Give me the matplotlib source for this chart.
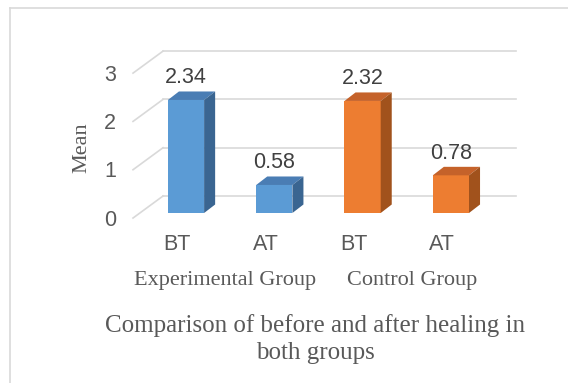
import matplotlib.pyplot as plt
from matplotlib.patches import Polygon
from matplotlib.lines import Line2D

# Mean scores before (BT) and after (AT) treatment
groups = ['Experimental Group', 'Control Group']
conditions = ['BT', 'AT', 'BT', 'AT']
means = [2.34, 0.58, 2.32, 0.78]
yticks = [0, 1, 2, 3]

# front / top / side shades for each group
shades = {
    'blue':   ('#5B9BD5', '#4A7DB4', '#3A6591'),
    'orange': ('#ED7D31', '#C5622A', '#A1521C'),
}
bar_shade = ['blue', 'blue', 'orange', 'orange']

W, H = 568, 383
fig = plt.figure(figsize=(W / 100, H / 100), dpi=100)
fig.patch.set_facecolor('white')

# chart frame (left and top edges)
fig.add_artist(Line2D([9.5 / W, 9.5 / W], [0, 1 - 8 / H], color='#d9d9d9', lw=1.2))
fig.add_artist(Line2D([9.5 / W, 1], [1 - 8 / H, 1 - 8 / H], color='#d9d9d9', lw=1.2))

# plot area in pixels
L, R, T, B = 100, 540, 40, 300
ax = fig.add_axes([L / W, 1 - B / H, (R - L) / W, (B - T) / H])
ppx, ppy = 88.3, 48.3        # pixels per data unit
x0, y0 = 186, 213            # pixel of bar 0 front-center baseline
ax.set_xlim((L - x0) / ppx, (R - x0) / ppx)
ax.set_ylim((y0 - B) / ppy, (y0 - T) / ppy)
ax.axis('off')

# 3D depth offsets (data units)
wall_dx, wall_dy = 0.263, 0.352     # bar front plane -> back wall
front_dx, front_dy = -0.077, -0.104  # bar front plane -> front edge
bar_dx, bar_dy = 0.125, 0.176        # bar depth
wall_left, wall_right = -0.26, 3.74
grid_c = '#d9d9d9'

for v in yticks:
    yb = v + wall_dy
    ax.plot([wall_left, wall_right], [yb, yb], color=grid_c, lw=1.2, zorder=1)
    xf = wall_left - wall_dx + front_dx
    ax.plot([wall_left, xf], [yb, v + front_dy], color=grid_c, lw=1.2, zorder=1)
    ax.text(-0.79, v - 0.15, str(v), ha='right', va='center',
            fontsize=15.5, color='#595959', family='Liberation Sans')

width = 0.41
x = list(range(len(means)))
bars = ax.bar(x, means, width=width, color=[shades[s][0] for s in bar_shade],
              zorder=3)

for xi, m, s, b in zip(x, means, bar_shade, bars):
    front, top, side = shades[s]
    xl, xr = xi - width / 2, xi + width / 2
    ax.add_patch(Polygon([(xl, m), (xr, m), (xr + bar_dx, m + bar_dy),
                          (xl + bar_dx, m + bar_dy)],
                         closed=True, facecolor=top, edgecolor='none', zorder=3))
    ax.add_patch(Polygon([(xr, 0), (xr + bar_dx, bar_dy), (xr + bar_dx, m + bar_dy),
                          (xr, m)],
                         closed=True, facecolor=side, edgecolor='none', zorder=3))
    ax.annotate(f'{m:.2f}', (xi, m), xytext=(0, 16), textcoords='offset points',
                ha='center', va='center', fontsize=15.5, color='#404040',
                family='Liberation Sans', zorder=4)
    ax.text(xi - 0.1, -0.66, conditions[xi], ha='center', va='center',
            fontsize=15.5, color='#595959', family='Liberation Sans')

# group labels under each pair of bars
for gx, g in zip([225.3, 412], groups):
    fig.text(gx / W, 1 - 281 / H, g, ha='center', va='center',
             fontsize=16, color='#595959', family='Liberation Serif')

fig.text(82 / W, 1 - 148 / H, 'Mean', rotation=90, ha='center', va='center',
         fontsize=16, color='#595959', family='Liberation Serif')

fig.text(315 / W, 1 - 339 / H,
         'Comparison of before and after healing in\nboth groups',
         ha='center', va='center', fontsize=18, color='#595959',
         family='Liberation Serif', linespacing=1.35)

fig.savefig('out.png', dpi=100, facecolor='white')
